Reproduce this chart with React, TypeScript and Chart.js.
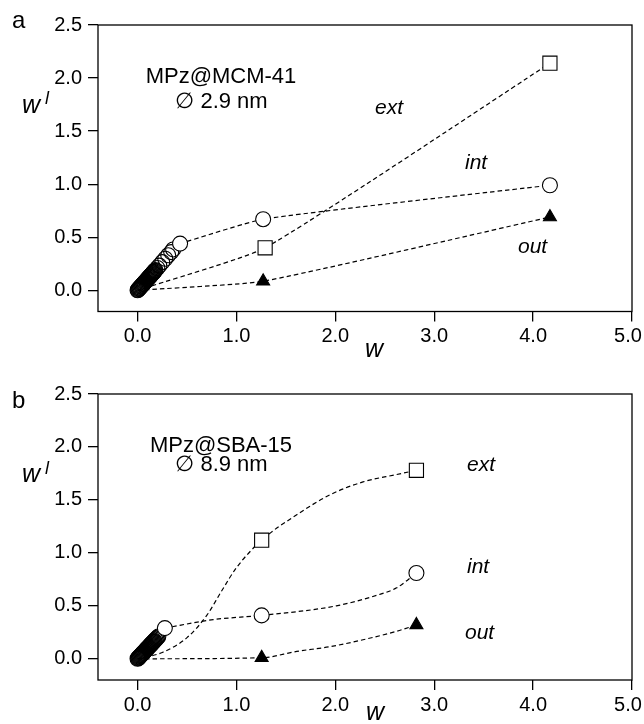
import React, { useEffect, useRef } from "react";
import { Chart, registerables } from "chart.js";

Chart.register(...registerables);

const FONT = "'Liberation Sans', Arial, Helvetica, sans-serif";

// ---------- shared axis ticks ----------
const xTickValues = [0, 1, 2, 3, 4, 5];
const yTickValues = [0, 0.5, 1.0, 1.5, 2.0, 2.5];

// ---------- panel a : MPz@MCM-41 ----------
// dense run of low-loading points (open circles)
const aClusterX = [0, 0.005, 0.01, 0.015, 0.02, 0.025, 0.03, 0.035, 0.04, 0.045, 0.05, 0.055, 0.06, 0.065, 0.07, 0.075, 0.08, 0.085, 0.09, 0.095, 0.1, 0.105, 0.11, 0.115, 0.12, 0.125, 0.13, 0.135, 0.14, 0.145, 0.15, 0.155, 0.16, 0.165, 0.17, 0.175, 0.18, 0.2, 0.22, 0.25, 0.28, 0.31, 0.34, 0.36];
const aClusterY = [0, 0.005, 0.011, 0.016, 0.021, 0.026, 0.032, 0.037, 0.042, 0.047, 0.053, 0.058, 0.063, 0.068, 0.074, 0.079, 0.084, 0.089, 0.095, 0.1, 0.105, 0.11, 0.116, 0.121, 0.126, 0.131, 0.137, 0.142, 0.147, 0.152, 0.158, 0.163, 0.168, 0.173, 0.179, 0.184, 0.19, 0.21, 0.232, 0.265, 0.297, 0.33, 0.36, 0.385];
const aIntX = [0.43, 1.27, 4.17];
const aIntY = [0.44, 0.67, 0.99];
const aExtX = [1.29, 4.17];
const aExtY = [0.4, 2.14];
const aOutX = [1.27, 4.17];
const aOutY = [0.085, 0.69];
// dashed guide curves
const aIntCurveX = [0.43, 1.27, 4.17];
const aIntCurveY = [0.44, 0.67, 0.99];
const aExtCurveX = [0, 1.29, 4.17];
const aExtCurveY = [0, 0.4, 2.14];
const aOutCurveX = [0, 1.27, 4.17];
const aOutCurveY = [0, 0.085, 0.69];

// ---------- panel b : MPz@SBA-15 ----------
const bClusterX = [0, 0.005, 0.01, 0.015, 0.02, 0.025, 0.03, 0.035, 0.04, 0.045, 0.05, 0.055, 0.06, 0.065, 0.07, 0.075, 0.08, 0.085, 0.09, 0.095, 0.1, 0.105, 0.11, 0.115, 0.12, 0.125, 0.13, 0.135, 0.14, 0.145, 0.15, 0.155, 0.16, 0.165, 0.17, 0.18, 0.19, 0.2, 0.21];
const bClusterY = [0, 0.005, 0.01, 0.015, 0.02, 0.025, 0.03, 0.035, 0.04, 0.045, 0.05, 0.055, 0.06, 0.065, 0.07, 0.075, 0.08, 0.085, 0.09, 0.095, 0.1, 0.105, 0.11, 0.115, 0.12, 0.125, 0.13, 0.135, 0.14, 0.145, 0.15, 0.155, 0.16, 0.165, 0.17, 0.18, 0.19, 0.2, 0.21];
const bIntX = [0.276, 1.255, 2.82];
const bIntY = [0.29, 0.41, 0.81];
const bExtX = [1.255, 2.82];
const bExtY = [1.12, 1.78];
const bOutX = [1.255, 2.82];
const bOutY = [0.01, 0.32];
const bIntCurveX = [0.276, 0.765, 1.255, 2.01, 2.42, 2.62, 2.82];
const bIntCurveY = [0.29, 0.37, 0.41, 0.5, 0.6, 0.67, 0.81];
const bExtCurveX = [0, 0.25, 0.5, 0.7, 0.85, 1.0, 1.255, 1.61, 1.95, 2.28, 2.62, 2.82];
const bExtCurveY = [0, 0.06, 0.2, 0.41, 0.64, 0.86, 1.12, 1.36, 1.55, 1.67, 1.74, 1.78];
const bOutCurveX = [0, 1.255, 1.61, 1.95, 2.28, 2.62, 2.82];
const bOutCurveY = [0, 0.01, 0.07, 0.115, 0.18, 0.26, 0.32];

const zip = (xs: number[], ys: number[]) => xs.map((x, i) => ({ x, y: ys[i] }));

type Pt = { x: number; y: number };
type TextItem = { text: string; x: number; y: number; font: string; align: CanvasTextAlign };

type PanelProps = {
  clusterPts: Pt[];
  intPts: Pt[];
  extPts: Pt[];
  outPts: Pt[];
  intCurve: Pt[];
  extCurve: Pt[];
  outCurve: Pt[];
  tension: number;
  monotone: boolean;
  padTop: number;
  xAxisHeight: number;
  texts: TextItem[];
};

const W = 644;
const H = 362;

function Panel(props: PanelProps) {
  const ref = useRef<HTMLCanvasElement | null>(null);
  useEffect(() => {
    if (!ref.current) return;
    const dash = [4.5, 3];
    const curve = (data: Pt[]) => ({
      data,
      showLine: true,
      borderColor: "#000",
      borderWidth: 1.2,
      borderDash: dash,
      pointRadius: 0,
      tension: props.tension,
      cubicInterpolationMode: props.monotone ? "monotone" : "default",
      fill: false,
      order: 2,
    });
    const marks = (data: Pt[], style: string, r: number, bg: string, order = 0) => ({
      data,
      showLine: false,
      pointStyle: style,
      pointRadius: r,
      pointBackgroundColor: bg,
      pointBorderColor: "#000",
      pointBorderWidth: 1.1,
      borderColor: "#000",
      backgroundColor: bg,
      order,
    });

    const boxPlugin = {
      id: "box",
      beforeDatasetsDraw(chart: any) {
        const { left, top, right, bottom } = chart.chartArea;
        const ctx = chart.ctx;
        ctx.save();
        ctx.strokeStyle = "#000";
        ctx.lineWidth = 1.3;
        ctx.strokeRect(left, top, right - left, bottom - top);
        ctx.restore();
      },
    };
    const textPlugin = {
      id: "texts",
      afterDraw(chart: any) {
        const ctx = chart.ctx;
        ctx.save();
        ctx.fillStyle = "#000";
        ctx.textBaseline = "alphabetic";
        for (const t of props.texts) {
          ctx.font = t.font;
          ctx.textAlign = t.align;
          ctx.fillText(t.text, t.x, t.y);
        }
        ctx.restore();
      },
    };

    const tickFont = { family: FONT, size: 20 };
    const chart = new Chart(ref.current, {
      type: "line",
      data: {
        datasets: [
          marks(props.intPts, "circle", 7.5, "#fff", 0),
          marks(props.extPts, "rect", 10, "#fff", 0),
          marks(props.outPts, "triangle", 7.5, "#000", 0),
          marks(props.clusterPts, "circle", 7.5, "rgba(0,0,0,0)", 1),
          curve(props.intCurve),
          curve(props.extCurve),
          curve(props.outCurve),
        ] as any,
      },
      options: {
        animation: false,
        responsive: false,
        devicePixelRatio: 1,
        events: [],
        layout: { padding: { top: props.padTop, right: 12, left: 0, bottom: 0 } },
        plugins: { legend: { display: false }, tooltip: { enabled: false } },
        scales: {
          x: {
            type: "linear",
            min: -0.4,
            max: 5,
            afterBuildTicks: (s: any) => {
              s.ticks = xTickValues.map((v) => ({ value: v }));
            },
            afterFit: (s: any) => {
              s.height = props.xAxisHeight;
              s.paddingLeft = 0;
              s.paddingRight = 0;
              if (!s.__wrapped && typeof s._computeLabelItems === "function") {
                const orig = s._computeLabelItems;
                s._computeLabelItems = function (ca: any) {
                  const items = orig.call(this, ca);
                  const last = items && items[items.length - 1];
                  if (last && last.options && last.options.translation) {
                    last.options.translation[0] -= 4;
                  }
                  return items;
                };
                s.__wrapped = true;
              }
            },
            ticks: {
              font: tickFont,
              color: "#000",
              padding: 3,
              maxRotation: 0,
              autoSkip: false,
              callback: (v: any) => Number(v).toFixed(1),
            },
            grid: { drawOnChartArea: false, drawTicks: true, tickLength: 10, color: "#000", lineWidth: 1.3 },
            border: { display: false },
          },
          y: {
            type: "linear",
            min: -0.2,
            max: 2.5,
            afterBuildTicks: (s: any) => {
              s.ticks = yTickValues.map((v) => ({ value: v }));
            },
            afterFit: (s: any) => {
              s.width = 98;
              s.paddingTop = 0;
              s.paddingBottom = 0;
            },
            ticks: {
              font: tickFont,
              color: "#000",
              padding: 6,
              autoSkip: false,
              callback: (v: any) => Number(v).toFixed(1),
            },
            grid: { drawOnChartArea: false, drawTicks: true, tickLength: 10, color: "#000", lineWidth: 1.3 },
            border: { display: false },
          },
        },
      } as any,
      plugins: [boxPlugin, textPlugin],
    });
    return () => chart.destroy();
  }, []);
  return <canvas ref={ref} width={W} height={H} style={{ display: "block", width: W, height: H }} />;
}

const f = (size: number, italic = false) => `${italic ? "italic " : ""}${size}px ${FONT}`;

const textsA: TextItem[] = [
  { text: "a", x: 12, y: 28, font: f(24), align: "left" },
  { text: "MPz@MCM-41", x: 221, y: 83, font: f(22), align: "center" },
  { text: "\u2205 2.9 nm", x: 221.5, y: 108, font: f(22), align: "center" },
  { text: "ext", x: 375, y: 114, font: f(21, true), align: "left" },
  { text: "int", x: 465, y: 169, font: f(21, true), align: "left" },
  { text: "out", x: 518, y: 253, font: f(21, true), align: "left" },
  { text: "w", x: 22, y: 113, font: f(25, true), align: "left" },
  { text: "l", x: 45, y: 104, font: f(18, true), align: "left" },
  { text: "w", x: 365, y: 357, font: f(25, true), align: "left" },
];

const textsB: TextItem[] = [
  { text: "b", x: 12, y: 46, font: f(24), align: "left" },
  { text: "MPz@SBA-15", x: 221, y: 90, font: f(22), align: "center" },
  { text: "\u2205 8.9 nm", x: 221.5, y: 109, font: f(22), align: "center" },
  { text: "ext", x: 467, y: 109, font: f(21, true), align: "left" },
  { text: "int", x: 467, y: 211, font: f(21, true), align: "left" },
  { text: "out", x: 465, y: 277, font: f(21, true), align: "left" },
  { text: "w", x: 22, y: 120, font: f(25, true), align: "left" },
  { text: "l", x: 45, y: 112, font: f(18, true), align: "left" },
  { text: "w", x: 366, y: 358, font: f(25, true), align: "left" },
];

export default function App() {
  return (
    <div style={{ position: "fixed", left: 0, top: 0, width: W, height: 724, background: "#fff" }}>
      <div style={{ position: "absolute", left: 0, top: 0 }}>
        <Panel
          clusterPts={zip(aClusterX, aClusterY)}
          intPts={zip(aIntX, aIntY)}
          extPts={zip(aExtX, aExtY)}
          outPts={zip(aOutX, aOutY)}
          intCurve={zip(aIntCurveX, aIntCurveY)}
          extCurve={zip(aExtCurveX, aExtCurveY)}
          outCurve={zip(aOutCurveX, aOutCurveY)}
          tension={0.15}
          monotone={false}
          padTop={25}
          xAxisHeight={50.5}
          texts={textsA}
        />
      </div>
      <div style={{ position: "absolute", left: 0, top: 362 }}>
        <Panel
          clusterPts={zip(bClusterX, bClusterY)}
          intPts={zip(bIntX, bIntY)}
          extPts={zip(bExtX, bExtY)}
          outPts={zip(bOutX, bOutY)}
          intCurve={zip(bIntCurveX, bIntCurveY)}
          extCurve={zip(bExtCurveX, bExtCurveY)}
          outCurve={zip(bOutCurveX, bOutCurveY)}
          tension={0.4}
          monotone={true}
          padTop={32}
          xAxisHeight={44}
          texts={textsB}
        />
      </div>
    </div>
  );
}
